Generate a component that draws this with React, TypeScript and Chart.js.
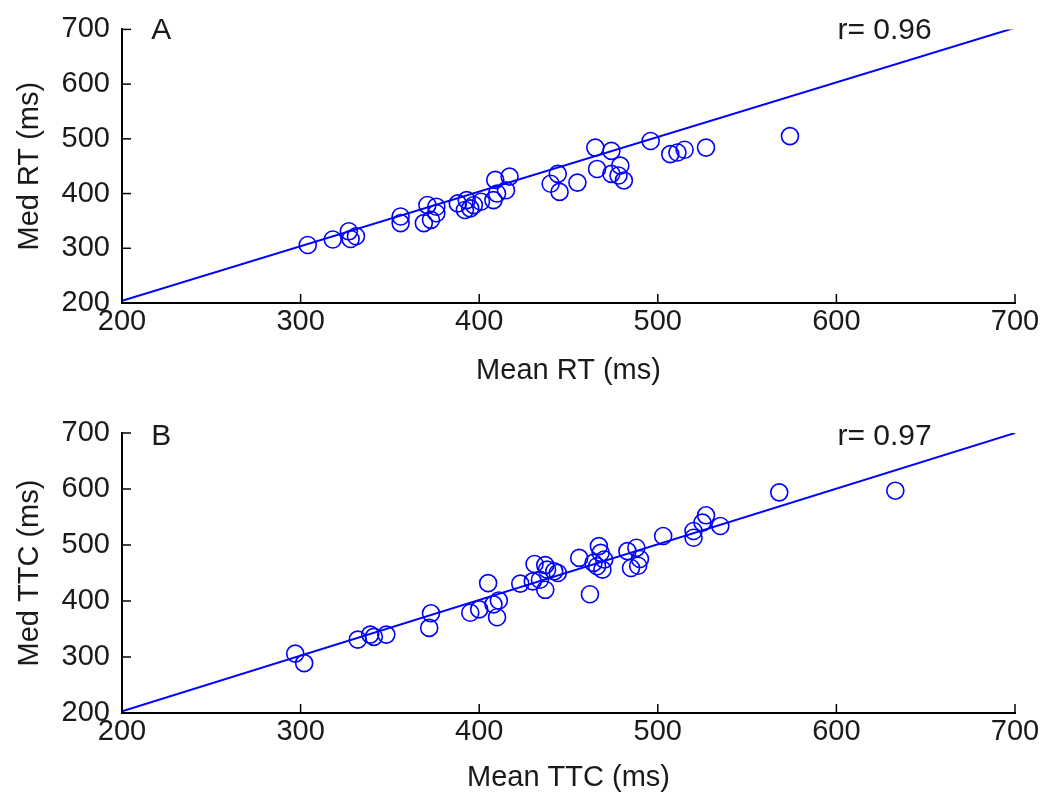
import React, { useEffect, useRef } from "react";
import { Chart, registerables } from "chart.js";

Chart.register(...registerables);

// ---- data ----
const axisMin = 200;
const axisMax = 700;
const tickStep = 100;

const rtMean = [304, 318, 327, 331, 328, 356, 356, 371, 376, 369, 373, 376, 388, 393, 395, 397, 401, 392, 408, 410, 409, 417, 415, 440, 444, 445, 455, 465, 466, 474, 479, 474, 481, 478, 496, 507, 511, 515, 527, 574];
const rtMed = [306, 316, 331, 322, 317, 358, 346, 379, 376, 346, 352, 364, 382, 388, 373, 379, 385, 370, 388, 400, 425, 431, 406, 418, 436, 403, 420, 484, 445, 478, 451, 436, 424, 433, 496, 472, 475, 480, 484, 505];

const ttcMean = [297, 302, 332, 339, 341, 348, 373, 372, 395, 400, 405, 408, 410, 411, 423, 430, 431, 437, 434, 437, 442, 438, 444, 456, 462, 467, 468, 464, 469, 466, 470, 483, 488, 485, 490, 489, 503, 520, 520, 527, 525, 535, 568, 633];
const ttcMed = [306, 289, 331, 340, 336, 340, 378, 352, 379, 385, 432, 394, 371, 401, 431, 435, 466, 464, 438, 420, 453, 456, 450, 477, 412, 498, 486, 468, 456, 462, 474, 489, 495, 459, 475, 463, 516, 525, 513, 553, 540, 534, 594, 597];

const fitX = [200, 700];
const rtFitY = [204, 703];
const ttcFitY = [203, 700];

const panelLabels = ["A", "B"];
const rLabels = ["r= 0.96", "r= 0.97"];
const xTitles = ["Mean RT (ms)", "Mean TTC (ms)"];
const yTitles = ["Med RT (ms)", "Med TTC (ms)"];

const FONT = "'Liberation Sans', Arial, sans-serif";
const BLUE = "#0000ff";
const TEXT = "#1a1a1a";

type PanelProps = {
  idx: number;
  xs: number[];
  ys: number[];
  fitY: number[];
  padTop: number;
  xHeight: number;
  xTitlePad: number;
  labelDy: number;
};

function Panel({ idx, xs, ys, fitY, padTop, xHeight, xTitlePad, labelDy }: PanelProps) {
  const ref = useRef<HTMLCanvasElement | null>(null);
  useEffect(() => {
    if (!ref.current) return;
    const inward = {
      id: "inwardTicks",
      afterDraw(chart: any) {
        const { ctx, chartArea, scales } = chart;
        ctx.save();
        ctx.strokeStyle = "#000";
        ctx.lineWidth = 1.5;
        scales.x.ticks.forEach((t: any) => {
          const px = scales.x.getPixelForValue(t.value);
          ctx.beginPath();
          ctx.moveTo(px, chartArea.bottom);
          ctx.lineTo(px, chartArea.bottom - 9);
          ctx.stroke();
        });
        scales.y.ticks.forEach((t: any) => {
          const py = scales.y.getPixelForValue(t.value);
          ctx.beginPath();
          ctx.moveTo(chartArea.left, py);
          ctx.lineTo(chartArea.left + 9, py);
          ctx.stroke();
        });
        ctx.fillStyle = TEXT;
        ctx.font = `30px ${FONT}`;
        ctx.textBaseline = "middle";
        ctx.textAlign = "center";
        ctx.fillText(panelLabels[idx], scales.x.getPixelForValue(222), chartArea.top + labelDy);
        ctx.fillText(rLabels[idx], scales.x.getPixelForValue(627), chartArea.top + labelDy);
        ctx.restore();
      },
    };
    const chart = new Chart(ref.current, {
      type: "scatter",
      data: {
        datasets: [
          {
            type: "line",
            data: fitX.map((x, i) => ({ x, y: fitY[i] })),
            borderColor: BLUE,
            borderWidth: 2,
            pointRadius: 0,
            fill: false,
          } as any,
          {
            data: xs.map((x, i) => ({ x, y: ys[i] })),
            pointStyle: "circle",
            pointRadius: 8.5,
            pointBorderWidth: 1.6,
            borderColor: BLUE,
            backgroundColor: "rgba(0,0,0,0)",
          },
        ],
      },
      options: {
        animation: false,
        responsive: false,
        maintainAspectRatio: false,
        layout: { padding: { top: padTop, right: 34, left: 0, bottom: 0 } },
        plugins: { legend: { display: false }, tooltip: { enabled: false } },
        scales: {
          x: {
            type: "linear",
            min: axisMin,
            max: axisMax,
            ticks: { stepSize: tickStep, autoSkip: false, maxRotation: 0, padding: 2, color: TEXT, font: { family: FONT, size: 29 } },
            grid: { display: false, drawTicks: false },
            border: { display: true, color: "#000", width: 2 },
            title: { display: true, text: xTitles[idx], color: TEXT, font: { family: FONT, size: 29 }, padding: { top: 0, bottom: xTitlePad } },
            afterFit(scale: any) {
              scale.height = xHeight;
            },
          },
          y: {
            type: "linear",
            min: axisMin,
            max: axisMax,
            ticks: { stepSize: tickStep, autoSkip: false, padding: 12, color: TEXT, font: { family: FONT, size: 29 } },
            grid: { display: false, drawTicks: false },
            border: { display: true, color: "#000", width: 2 },
            title: { display: true, text: yTitles[idx], color: TEXT, font: { family: FONT, size: 29 }, padding: { top: 13, bottom: 0 } },
            afterFit(scale: any) {
              scale.width = 122;
            },
          },
        },
      } as any,
      plugins: [inward],
    });
    return () => chart.destroy();
  }, []);
  return <canvas ref={ref} width={1049} height={401} style={{ display: "block", width: 1049, height: 401 }} />;
}

export default function App() {
  return (
    <div style={{ position: "absolute", left: 0, top: 0, width: 1049, height: 802, background: "#fff" }}>
      <Panel idx={0} xs={rtMean} ys={rtMed} fitY={rtFitY} padTop={25} xHeight={98} xTitlePad={13} labelDy={1} />
      <Panel idx={1} xs={ttcMean} ys={ttcMed} fitY={ttcFitY} padTop={32} xHeight={89} xTitlePad={7} labelDy={4} />
    </div>
  );
}
